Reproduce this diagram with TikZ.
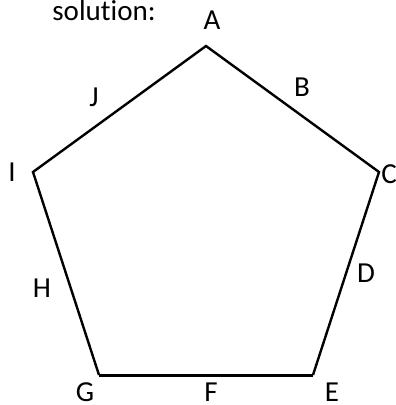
\documentclass[tikz,border=0pt]{standalone}
\usepackage{fontspec}
\setmainfont[Ligatures=NoCommon]{Carlito}
\begin{document}
\begin{tikzpicture}[x=1pt,y=-1pt,
  lbl/.style={inner sep=0pt,font=\fontsize{29}{33}\selectfont},
  edge/.style={line width=2.4pt,line join=miter,line cap=butt}]
\useasboundingbox (0,0) rectangle (396,405);
\coordinate (vA) at (206,46);
\coordinate (vC) at (379,172);
\coordinate (vE) at (313,375);
\coordinate (vG) at (99,375);
\coordinate (vI) at (33,172);
\draw[edge] (vG) -- (vI) -- (vA) -- (vC) -- (vE);
\draw[edge,line width=3pt] (vE) -- (vG);
\node[lbl,anchor=base] (sol) at (104,20) {solution:};
\node[lbl] (A) at (212,20) {A};
\node[lbl] (B) at (302,87) {B};
\node[lbl] (C) at (389,174) {C};
\node[lbl] (D) at (366,273) {D};
\node[lbl] (E) at (332,392) {E};
\node[lbl] (F) at (211,392) {F};
\node[lbl] (G) at (85,392) {G};
\node[lbl] (H) at (42,288) {H};
\node[lbl] (I) at (12,172) {I};
\node[lbl] (J) at (94,97) {J};
\end{tikzpicture}
\end{document}
